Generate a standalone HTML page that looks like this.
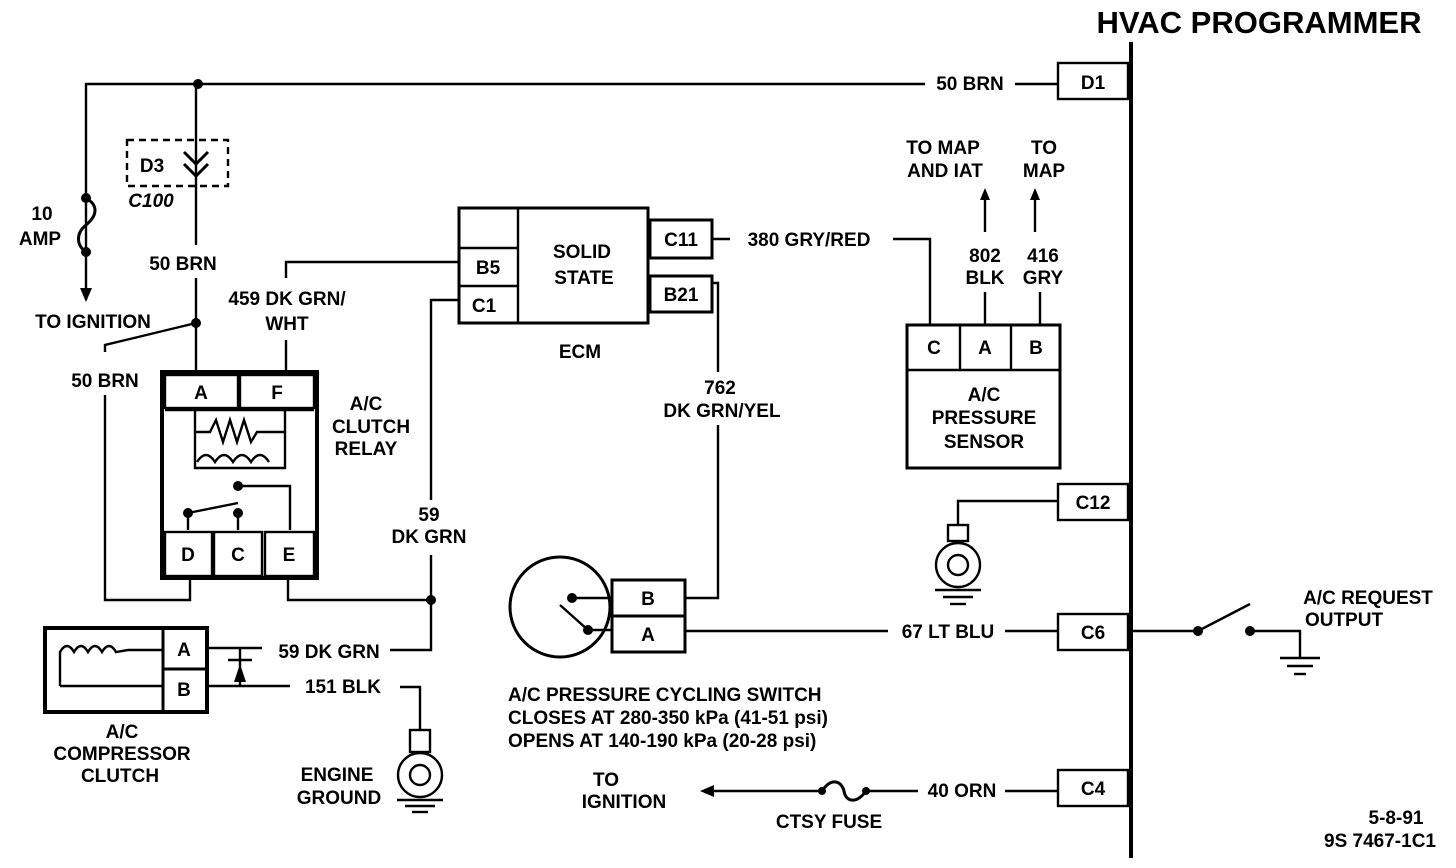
<!DOCTYPE html>
<html><head><meta charset="utf-8"><style>
html,body{margin:0;padding:0;background:#fff}
svg{display:block}
text{font-family:"Liberation Sans Narrow","Liberation Sans",sans-serif;font-weight:bold;font-size:19px;fill:#000}
</style></head><body>
<svg width="1456" height="868" viewBox="0 0 1456 868" xmlns="http://www.w3.org/2000/svg">
<g fill="none" stroke="#000" stroke-width="2.4">
<!-- programmer -->
<line x1="1131" y1="42" x2="1131" y2="858" stroke-width="4"/>
<rect x="1058" y="63" width="70" height="36"/>
<rect x="1058" y="484" width="70" height="36"/>
<rect x="1058" y="614" width="70" height="36"/>
<rect x="1058" y="770" width="70" height="36"/>
<!-- top wire -->
<polyline points="86,300 86,84 925,84"/>
<line x1="1015" y1="84" x2="1058" y2="84"/>
<path d="M86,198 C98,205 98,215 86,225 C76,233 76,245 86,252" stroke-width="3"/>
<!-- C100 -->
<line x1="196" y1="84" x2="196" y2="245"/>
<rect x="127" y="140" width="101" height="46" stroke-dasharray="7,5"/>
<polyline points="184,152 196,164 208,152" stroke-width="3"/>
<polyline points="184,164 196,176 208,164" stroke-width="3"/>
<line x1="196" y1="278" x2="196" y2="372"/>
<polyline points="196,323 105,345 105,352"/>
<polyline points="105,395 105,600 190,600 190,578"/>
<!-- relay -->
<rect x="162" y="372" width="155" height="206" stroke-width="4"/>
<rect x="165" y="375" width="73" height="33"/>
<rect x="240" y="375" width="74" height="33"/>
<line x1="165" y1="410" x2="314" y2="410"/>
<rect x="165" y="532" width="47" height="44"/>
<rect x="214" y="532" width="48" height="44"/>
<rect x="265" y="532" width="49" height="44"/>
<polyline points="195,410 195,468 285,468 285,410"/>
<polyline points="195,432 210,432 216,420 223,442 230,420 237,442 244,420 251,442 257,432 285,432"/>
<path d="M197,462 q9,-14 18,0 q9,-14 18,0 q9,-14 18,0 q9,-14 18,0" />
<polyline points="238,486 290,486 290,530"/>
<line x1="188" y1="513" x2="238" y2="503"/>
<line x1="188" y1="513" x2="188" y2="530"/>
<line x1="238" y1="513" x2="238" y2="530"/>
<polyline points="286,372 286,340"/>
<polyline points="286,278 286,262 459,262"/>
<polyline points="288,578 288,600 431,600"/>
<polyline points="431,500 431,300 459,300"/>
<polyline points="431,555 431,650 390,650"/>
<!-- ECM -->
<rect x="459" y="208" width="189" height="115" stroke-width="3"/>
<line x1="518" y1="208" x2="518" y2="323"/>
<line x1="459" y1="248" x2="518" y2="248"/>
<line x1="459" y1="286" x2="518" y2="286"/>
<rect x="650" y="220" width="62" height="38" stroke-width="3"/>
<rect x="650" y="276" width="62" height="36" stroke-width="3"/>
<line x1="712" y1="239" x2="730" y2="239"/>
<polyline points="893,239 930,239 930,325"/>
<polyline points="712,283 718,283 718,372"/>
<polyline points="718,425 718,598 686,598"/>
<!-- sensor -->
<rect x="907" y="325" width="153" height="143" stroke-width="3"/>
<line x1="907" y1="370" x2="1060" y2="370"/>
<line x1="960" y1="325" x2="960" y2="370"/>
<line x1="1011" y1="325" x2="1011" y2="370"/>
<line x1="985" y1="325" x2="985" y2="292"/>
<line x1="1040" y1="325" x2="1040" y2="292"/>
<line x1="985" y1="232" x2="985" y2="195"/>
<line x1="1035" y1="232" x2="1035" y2="195"/>
<!-- C12 ground -->
<polyline points="1058,501 958,501 958,525"/>
<rect x="948" y="525" width="20" height="16"/>
<circle cx="958" cy="565" r="22"/>
<circle cx="958" cy="565" r="10"/>
<line x1="935" y1="590" x2="981" y2="590"/>
<line x1="943" y1="597" x2="973" y2="597"/>
<line x1="950" y1="604" x2="966" y2="604"/>
<!-- pressure switch -->
<circle cx="560" cy="607" r="50" stroke-width="3"/>
<rect x="612" y="580" width="73" height="36" stroke-width="3"/>
<rect x="612" y="616" width="73" height="36" stroke-width="3"/>
<line x1="572" y1="598" x2="612" y2="598"/>
<line x1="588" y1="630" x2="612" y2="630"/>
<line x1="560" y1="605" x2="588" y2="630"/>
<line x1="685" y1="631" x2="888" y2="631"/>
<line x1="1005" y1="631" x2="1058" y2="631"/>
<!-- C6 -->
<line x1="1131" y1="631" x2="1198" y2="631"/>
<line x1="1198" y1="631" x2="1250" y2="604"/>
<polyline points="1250,631 1300,631 1300,658"/>
<line x1="1280" y1="658" x2="1320" y2="658"/>
<line x1="1287" y1="666" x2="1313" y2="666"/>
<line x1="1294" y1="674" x2="1306" y2="674"/>
<!-- C4 -->
<line x1="1058" y1="791" x2="1005" y2="791"/>
<line x1="918" y1="791" x2="866" y2="791"/>
<path d="M866,791 C855,806 845,800 844,791 C842,782 832,776 822,791" stroke-width="3"/>
<line x1="822" y1="791" x2="705" y2="791"/>
<!-- compressor clutch -->
<rect x="45" y="628" width="162" height="84" stroke-width="4"/>
<line x1="163" y1="628" x2="163" y2="712" stroke-width="3"/>
<line x1="163" y1="669" x2="207" y2="669" stroke-width="3"/>
<path d="M60,686 L60,652 q7,-12 14,0 q7,-12 14,0 q7,-12 14,0 q7,-12 14,0 L128,650 L163,650"/>
<line x1="60" y1="686" x2="163" y2="686"/>
<line x1="207" y1="648" x2="262" y2="648"/>
<line x1="207" y1="686" x2="290" y2="686"/>
<line x1="240" y1="648" x2="240" y2="686"/>
<line x1="228" y1="660" x2="252" y2="660"/>
<polyline points="400,687 420,687 420,730"/>
<rect x="410" y="730" width="20" height="22"/>
<circle cx="420" cy="775" r="22"/>
<circle cx="420" cy="775" r="10"/>
<line x1="397" y1="800" x2="443" y2="800"/>
<line x1="405" y1="806" x2="435" y2="806"/>
<line x1="412" y1="812" x2="428" y2="812"/>
</g>
<g fill="#000">
<circle cx="198" cy="84" r="5"/><circle cx="86" cy="198" r="5"/><circle cx="86" cy="252" r="5"/>
<circle cx="196" cy="323" r="5"/><circle cx="431" cy="600" r="5"/>
<circle cx="238" cy="486" r="5"/><circle cx="188" cy="513" r="5"/><circle cx="238" cy="513" r="5"/>
<circle cx="572" cy="598" r="5"/><circle cx="588" cy="630" r="5"/>
<circle cx="1198" cy="631" r="5"/><circle cx="1250" cy="631" r="5"/>
<circle cx="866" cy="791" r="4"/><circle cx="822" cy="791" r="4"/>
<polygon points="80,288 92,288 86,302"/>
<polygon points="980,200 990,200 985,188"/>
<polygon points="1030,200 1040,200 1035,188"/>
<polygon points="234,682 246,682 240,664"/>
<polygon points="700,791 714,785 714,797"/>
</g>
<text x="1259" y="33" text-anchor="middle" style="font-size:31px">HVAC PROGRAMMER</text>
<text x="1093" y="89" text-anchor="middle">D1</text>
<text x="1093" y="509" text-anchor="middle">C12</text>
<text x="1093" y="639" text-anchor="middle">C6</text>
<text x="1093" y="795" text-anchor="middle">C4</text>
<text x="970" y="90" text-anchor="middle">50 BRN</text>
<text x="152" y="172" text-anchor="middle">D3</text>
<text x="151" y="207" text-anchor="middle" font-style="italic">C100</text>
<text x="42" y="220" text-anchor="middle">10</text>
<text x="40" y="245" text-anchor="middle">AMP</text>
<text x="93" y="328" text-anchor="middle">TO IGNITION</text>
<text x="183" y="270" text-anchor="middle">50 BRN</text>
<text x="105" y="387" text-anchor="middle">50 BRN</text>
<text x="287" y="305" text-anchor="middle">459 DK GRN/</text>
<text x="287" y="330" text-anchor="middle">WHT</text>
<text x="201" y="399" text-anchor="middle">A</text>
<text x="277" y="399" text-anchor="middle">F</text>
<text x="188" y="561" text-anchor="middle">D</text>
<text x="238" y="561" text-anchor="middle">C</text>
<text x="289" y="561" text-anchor="middle">E</text>
<text x="366" y="410" text-anchor="middle">A/C</text>
<text x="371" y="433" text-anchor="middle">CLUTCH</text>
<text x="366" y="455" text-anchor="middle">RELAY</text>
<text x="429" y="521" text-anchor="middle">59</text>
<text x="429" y="543" text-anchor="middle">DK GRN</text>
<text x="488" y="274" text-anchor="middle">B5</text>
<text x="484" y="312" text-anchor="middle">C1</text>
<text x="582" y="258" text-anchor="middle">SOLID</text>
<text x="584" y="284" text-anchor="middle">STATE</text>
<text x="580" y="358" text-anchor="middle">ECM</text>
<text x="681" y="246" text-anchor="middle">C11</text>
<text x="681" y="301" text-anchor="middle">B21</text>
<text x="809" y="246" text-anchor="middle">380 GRY/RED</text>
<text x="720" y="394" text-anchor="middle">762</text>
<text x="722" y="417" text-anchor="middle">DK GRN/YEL</text>
<text x="943" y="154" text-anchor="middle">TO MAP</text>
<text x="945" y="177" text-anchor="middle">AND IAT</text>
<text x="1044" y="154" text-anchor="middle">TO</text>
<text x="1044" y="177" text-anchor="middle">MAP</text>
<text x="985" y="262" text-anchor="middle">802</text>
<text x="985" y="284" text-anchor="middle">BLK</text>
<text x="1043" y="262" text-anchor="middle">416</text>
<text x="1043" y="284" text-anchor="middle">GRY</text>
<text x="934" y="354" text-anchor="middle">C</text>
<text x="985" y="354" text-anchor="middle">A</text>
<text x="1036" y="354" text-anchor="middle">B</text>
<text x="984" y="401" text-anchor="middle">A/C</text>
<text x="984" y="424" text-anchor="middle">PRESSURE</text>
<text x="984" y="448" text-anchor="middle">SENSOR</text>
<text x="648" y="605" text-anchor="middle">B</text>
<text x="648" y="641" text-anchor="middle">A</text>
<text x="948" y="638" text-anchor="middle">67 LT BLU</text>
<text x="1368" y="604" text-anchor="middle">A/C REQUEST</text>
<text x="1344" y="626" text-anchor="middle">OUTPUT</text>
<text x="508" y="701">A/C PRESSURE CYCLING SWITCH</text>
<text x="508" y="724">CLOSES AT 280-350 kPa (41-51 psi)</text>
<text x="508" y="747">OPENS AT 140-190 kPa (20-28 psi)</text>
<text x="606" y="786" text-anchor="middle">TO</text>
<text x="624" y="808" text-anchor="middle">IGNITION</text>
<text x="962" y="797" text-anchor="middle">40 ORN</text>
<text x="829" y="828" text-anchor="middle">CTSY FUSE</text>
<text x="1396" y="824" text-anchor="middle">5-8-91</text>
<text x="1380" y="847" text-anchor="middle">9S 7467-1C1</text>
<text x="184" y="656" text-anchor="middle">A</text>
<text x="184" y="696" text-anchor="middle">B</text>
<text x="329" y="658" text-anchor="middle">59 DK GRN</text>
<text x="343" y="693" text-anchor="middle">151 BLK</text>
<text x="122" y="738" text-anchor="middle">A/C</text>
<text x="122" y="760" text-anchor="middle">COMPRESSOR</text>
<text x="120" y="782" text-anchor="middle">CLUTCH</text>
<text x="337" y="781" text-anchor="middle">ENGINE</text>
<text x="339" y="804" text-anchor="middle">GROUND</text>
</svg>
</body></html>
